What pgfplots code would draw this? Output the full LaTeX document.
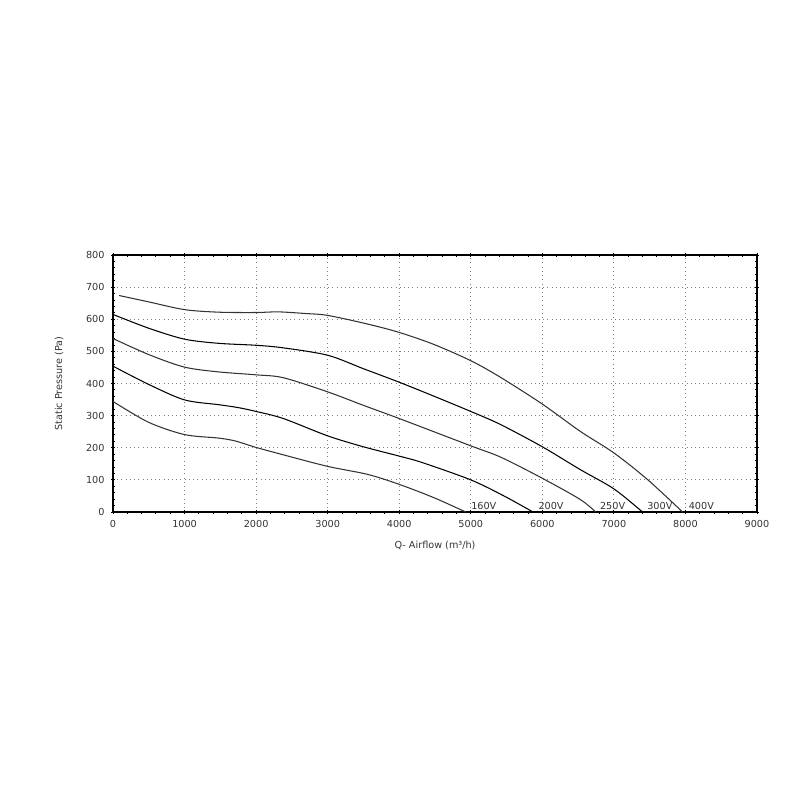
\documentclass[border=0pt]{standalone}
\usepackage{pgfplots}
\pgfplotsset{compat=1.18}
\usepackage{fontspec}
\setmainfont{DejaVu Sans}
\begin{document}
\begin{tikzpicture}[x=1cm,y=1cm]
% page frame: 800x800 px at 0.02cm per px, axis box lower-left at (0,0)
\path[use as bounding box] (-2.26,-5.76) rectangle (13.74,10.24);
\begin{axis}[
    at={(0,0)}, anchor=south west,
    width=12.88cm, height=5.14cm, scale only axis,
    xmin=0, xmax=9000, ymin=0, ymax=800,
    xtick distance=1000, ytick distance=100,
    minor x tick num=4, minor y tick num=4,
    tick align=center,
    major tick length=0.09cm, minor tick length=0.06cm,
    every tick/.style={black, line width=0.5pt},
    axis line style={black, line width=0.9pt},
    grid=major,
    major grid style={gray, dotted, line width=0.5pt},
    tick label style={font=\fontsize{5.5}{6}\selectfont, color=black!80},
    /pgf/number format/assume math mode=true,
    /pgf/number format/1000 sep={},
    scaled ticks=false,
    xlabel={Q- Airflow (m³/h)},
    ylabel={Static Pressure (Pa)},
    label style={font=\fontsize{5.5}{6}\selectfont, color=black!80},
    xlabel style={yshift=-1pt},
    ylabel style={yshift=6pt},
    cycle list={{black!80, mark=none}},
    every axis plot/.append style={line width=0.6pt, smooth, tension=0.5},
]
% 400V
\addplot coordinates {(84,674) (500,654) (1000,630) (1480,622) (2000,621) (2310,623) (2680,618) (3000,612) (3560,585) (4000,559) (4480,522) (5000,471) (5410,420) (6000,336) (6530,251) (7000,184) (7470,101) (7960,0)};
% 300V
\addplot coordinates {(0,615) (500,572) (1000,538) (1480,525) (2000,519) (2380,511) (3000,488) (3500,446) (4000,404) (4480,361) (5000,313) (5410,273) (6000,203) (6530,132) (7000,72) (7400,0)};
% 250V
\addplot coordinates {(0,540) (500,490) (1000,451) (1480,436) (2000,427) (2380,418) (3000,374) (3500,332) (4000,291) (5000,206) (5425,170) (6000,105) (6530,39) (6745,0)};
% 200V
\addplot coordinates {(0,454) (500,397) (1000,349) (1480,334) (1750,325) (2000,313) (2380,291) (3000,237) (3500,203) (4000,174) (4320,154) (5000,100) (5455,51) (5870,0)};
% 160V
\addplot coordinates {(0,344) (500,279) (1000,241) (1480,230) (1710,221) (2000,201) (2380,178) (3000,142) (3560,117) (4000,86) (4480,45) (4930,0)};
\foreach \xx/\lab in {4990/160V,5930/200V,6790/250V,7450/300V,8030/400V}{
  \edef\tmp{\noexpand\node[anchor=south west, inner sep=0.5pt, font=\noexpand\fontsize{5.5}{6}\noexpand\selectfont, text=black!80] at (axis cs:\xx,2) {\lab};}
  \tmp
}
\end{axis}
\end{tikzpicture}
\end{document}
